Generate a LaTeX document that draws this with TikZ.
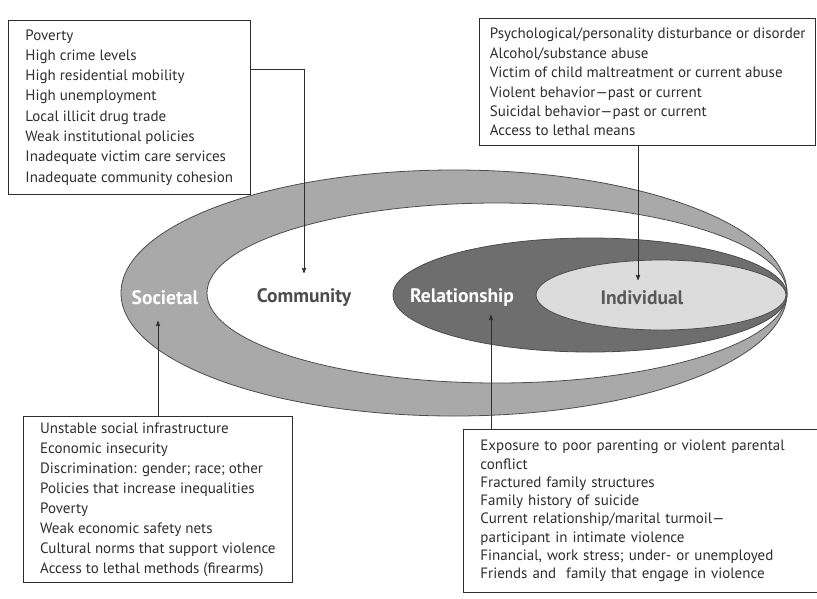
\documentclass[tikz,border=0pt]{standalone}
\usepackage{fontspec}
\setmainfont{PT Sans}
\usetikzlibrary{arrows}

\definecolor{ringgray}{HTML}{A9A9A9}
\definecolor{relgray}{HTML}{6E6E6E}
\definecolor{indgray}{HTML}{DCDCDC}
\definecolor{inkgray}{HTML}{2E2E2E}

\begin{document}
\begin{tikzpicture}
  [x=1pt,y=-1pt,>=stealth',
   factor/.style={draw=inkgray,fill=white,line width=0.9pt,align=left,anchor=north west,
     inner xsep=17pt,inner ysep=9pt,text=inkgray,font=\fontsize{15}{20.3}\selectfont},
   level/.style={font=\bfseries\fontsize{19.5}{19.5}\selectfont},
   rim/.style={draw=black!70,line width=0.8pt},
   link/.style={->,draw=inkgray,line width=0.9pt,shorten >=1pt}]
  \useasboundingbox (0,0) rectangle (817,598);

  % the four nested levels
  \filldraw[rim,fill=ringgray] (454,293) ellipse [x radius=333pt,y radius=123pt];
  \filldraw[rim,fill=white] (497,293) ellipse [x radius=290pt,y radius=90pt];
  \filldraw[rim,fill=relgray] (590,295) ellipse [x radius=197pt,y radius=57pt];
  \filldraw[rim,fill=indgray] (661,295) ellipse [x radius=125pt,y radius=35pt];

  \node[level,text=white] (nsoc) at (165,298) {Societal};
  \node[level,text=black!70] (ncom) at (304,298) {Community};
  \node[level,text=white] (nrel) at (462,298) {Relationship};
  \node[level,text=black!65] (nind) at (642,298) {Individual};

  % risk factor boxes
  \node[factor] (bcom) at (8,20) {Poverty\\High crime levels\\High residential mobility\\
    High unemployment\\Local illicit drug trade\\Weak institutional policies\\
    Inadequate victim care services\\Inadequate community cohesion};
  \node[factor,anchor=north east,inner xsep=10pt,inner ysep=9.7pt,
    font=\fontsize{15}{19.4}\selectfont] (bind) at (816,18) {Psychological/personality disturbance or disorder\\
    Alcohol/substance abuse\\Victim of child maltreatment or current abuse\\
    Violent behavior—past or current\\Suicidal behavior—past or current\\Access to lethal means};
  \node[factor,anchor=north east,inner ysep=6pt,font=\fontsize{15}{20}\selectfont] (bsoc) at (293,416)
    {Unstable social infrastructure\\Economic insecurity\\
    Discrimination: gender; race; other\\Policies that increase inequalities\\Poverty\\
    Weak economic safety nets\\Cultural norms that support violence\\Access to lethal methods (firearms)};
  \node[factor,text width=320pt,inner ysep=10.7pt,font=\fontsize{15}{18.3}\selectfont] (brel) at (463,429)
    {Exposure to poor parenting or violent parental\\conflict\\
    Fractured family structures\\Family history of suicide\\Current relationship/marital turmoil—\\
    participant in intimate violence\\Financial, work stress; under- or unemployed\\
    Friends and~ family that engage in violence};

  % connectors
  \coordinate (kcom) at (304,69);
  \coordinate (tcom) at (304,274);
  \coordinate (tind) at (638,281);
  \coordinate (tsoc) at (158,320);
  \coordinate (trel) at (491,314);
  \draw[link] (bcom.east |- kcom) -- (kcom) -- (tcom);
  \draw[link] (bind.south -| tind) -- (tind);
  \draw[link] (bsoc.north -| tsoc) -- (tsoc);
  \draw[link] (brel.north -| trel) -- (trel);
\end{tikzpicture}
\end{document}
